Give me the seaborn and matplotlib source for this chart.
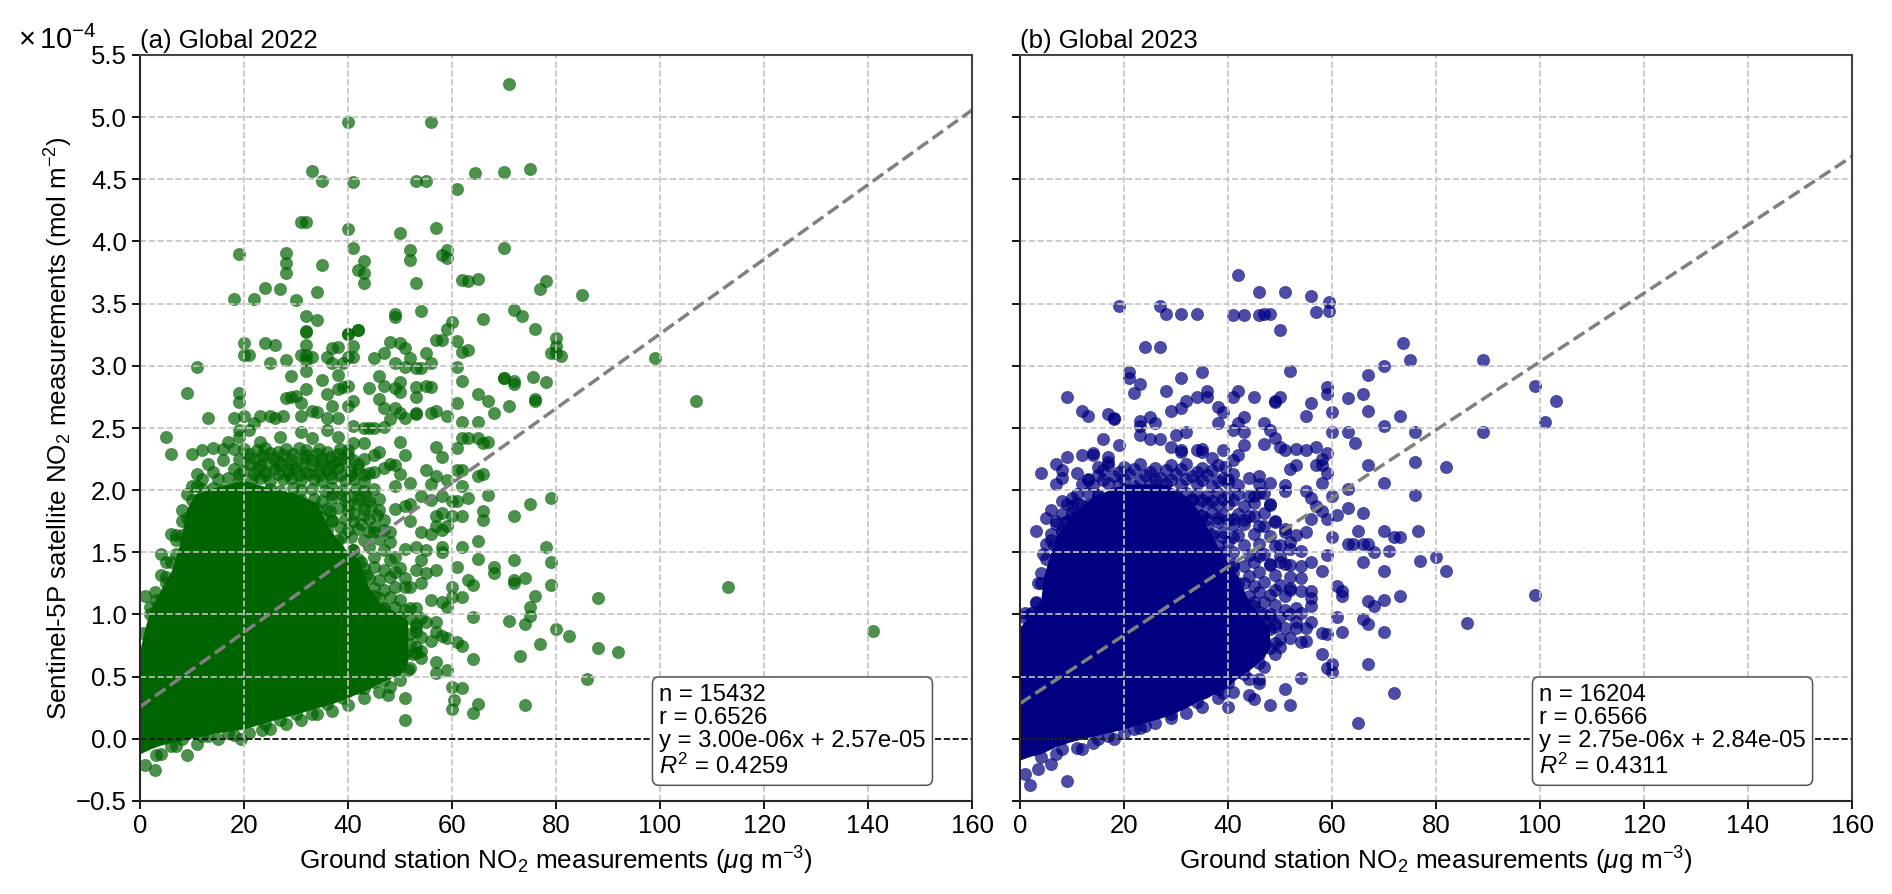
import matplotlib
matplotlib.use("Agg")
import matplotlib.pyplot as plt
import seaborn as sns

# y values are in units of 1e-4 mol m-2 (the axis multiplier is drawn as text)
# points that can be told apart
a_sparse = [
    (71, 5.27), (40, 4.96), (56, 4.96), (33, 4.57), (35, 4.49), (41, 4.48), (53, 4.49), (55, 4.49), (61, 4.42),
    (75, 4.58), (70, 4.56), (64.5, 4.55), (31, 4.16), (32, 4.16), (40, 4.10), (57, 4.11), (50, 4.07), (19, 3.90),
    (28, 3.91), (28, 3.83), (28, 3.75), (35, 3.81), (41, 3.95), (43, 3.84), (42, 3.77), (43, 3.75), (43, 3.67),
    (52, 3.93), (52, 3.85), (59, 3.93), (58, 3.89), (59, 3.87), (53, 3.67), (62, 3.69), (24, 3.63), (27, 3.62),
    (18, 3.54), (22, 3.54), (30, 3.53), (34, 3.59), (32, 3.40), (34, 3.37), (49, 3.42), (49, 3.39), (54, 3.44),
    (32, 3.28), (40, 3.26), (42, 3.29), (70, 3.95), (78, 3.68), (77, 3.62), (72, 3.45), (73.5, 3.40), (85, 3.57),
    (76, 3.30), (80, 3.22), (80, 3.16), (80, 3.10), (79, 3.10), (81, 3.08), (75.5, 2.91), (70, 2.90), (72, 2.85),
    (76, 2.73), (99, 3.06), (107, 2.72), (65, 3.70), (63, 3.68), (60, 3.35), (59, 3.30), (61, 3.20), (66, 3.38),
    (20, 3.18), (24, 3.18), (26, 3.17), (20, 3.09), (21, 3.09), (25, 3.02), (28, 3.05), (32, 3.27), (32, 3.17),
    (31, 3.09), (32, 3.09), (32, 3.05), (33, 3.07), (32, 2.96), (29, 2.92), (35, 2.89), (37, 3.14), (38, 3.15),
    (40, 3.26), (42, 3.29), (41, 3.16), (41, 3.07), (40, 3.07), (36, 3.07), (37, 3.02), (39, 3.02), (38, 2.93),
    (45, 3.06), (47, 3.10), (48, 3.19), (50, 3.18), (51, 3.14), (52, 3.06), (49, 3.02), (51, 2.99), (53, 2.98),
    (54, 2.98), (56, 3.02), (55, 3.10), (57, 3.21), (58, 3.21), (61, 2.99), (62, 3.11), (63, 3.13), (62, 2.88),
    (46, 2.92), (47, 2.84), (50, 2.87), (49, 2.82), (50, 2.79), (53, 2.83), (55, 2.84), (56, 2.83), (44, 2.82),
    (39, 2.83), (40, 2.84), (38, 2.81), (36, 2.77), (32, 2.81), (46, 2.73), (53, 2.75), (41, 2.72), (40, 2.68),
    (37, 2.68), (47, 2.66), (49, 2.66), (50, 2.62), (51, 2.58), (53, 2.62), (53, 2.61), (56, 2.62), (57, 2.64),
    (59, 2.60), (48, 2.57), (47, 2.51), (45, 2.50), (41, 2.52), (43, 2.50), (44, 2.50), (61, 2.70), (65, 2.77),
    (67, 2.72), (68, 2.62), (65, 2.55), (62, 2.55), (71, 2.68), (70, 2.90), (72, 2.88), (76, 2.72), (78, 2.87),
    (62, 2.42), (63, 2.42), (61, 2.34), (65, 2.42), (66, 2.38), (67, 2.39), (57, 2.35), (58, 2.27), (50, 2.39),
    (51, 2.28), (46, 2.31), (45, 2.28), (48, 2.21), (47, 2.18), (49, 2.20), (50, 2.13), (44, 2.14), (45, 2.15),
    (52, 2.06), (49, 2.03), (55, 2.16), (57, 2.11), (56, 2.05), (59, 2.08), (61, 2.16), (62, 2.16), (65, 2.11),
    (66, 2.13), (62, 2.03), (54, 1.95), (56, 1.92), (58, 1.95), (63, 1.94), (67, 1.96), (79, 1.94), (75, 1.89),
    (60, 1.91), (61, 1.91), (52, 1.89), (51, 1.87), (49, 1.85), (66, 1.83), (66, 1.76), (72, 1.79), (58, 1.82),
    (57, 1.79), (60, 1.79), (62, 1.79), (52, 1.75), (59, 1.71), (57, 1.71), (58, 1.68), (54, 1.66), (56, 1.65),
    (65, 1.59), (48, 1.66), (47, 1.68), (45, 1.66), (58, 1.54), (58, 1.50), (55, 1.52), (53, 1.54), (51, 1.53),
    (49, 1.46), (48, 1.58), (62, 1.54), (78, 1.54), (65, 1.45), (72, 1.44), (79, 1.42), (54, 1.44), (61, 1.38),
    (57, 1.36), (53, 1.36), (68, 1.38), (68, 1.33), (55, 1.33), (49, 1.34), (74, 1.29), (72, 1.28), (72, 1.25),
    (63, 1.28), (64, 1.24), (60, 1.22), (79, 1.24), (51, 1.22), (52, 1.22), (54, 1.25), (60, 1.14), (62, 1.14),
    (76, 1.15), (75, 1.06), (75, 0.99), (74, 0.92), (71, 0.95), (64, 0.98), (56, 1.12), (58, 1.10), (59, 1.06),
    (52, 1.05), (54, 0.97), (55, 0.94), (57, 0.94), (53, 0.86), (57, 0.86), (58, 0.83), (59, 0.81), (56, 0.79),
    (61, 0.78), (62, 0.75), (77, 0.76), (73, 0.67), (64, 0.64), (57, 0.62), (54, 0.71), (53, 0.69), (59, 0.55),
    (57, 0.53), (52, 0.57), (50, 0.58), (47, 0.47), (113, 1.22), (88, 1.13), (141, 0.87), (80, 0.88), (82.5, 0.83),
    (88, 0.73), (92, 0.70), (86, 0.48), (74, 0.27), (65, 0.28), (64, 0.21), (60, 0.42), (62, 0.41), (51, 0.15),
    (51, 0.33), (47.6, 0.35), (43, 0.41), (60, 0.24), (60.4, 0.31), (33, 0.20), (29, 0.34), (23.5, 0.07),
    (22.5, 0.20), (19.5, 0.0), (8, 0.0), (9, -0.13), (2.8, -0.25), (1, -0.21), (4, -0.12), (6, -0.06), (13, 0.02),
    (11, 2.99), (9, 2.78), (13, 2.58), (5, 2.43), (6, 2.29), (10, 2.29), (12, 2.32), (14, 2.34), (16, 2.33),
    (18, 2.33), (17, 2.39), (13, 2.21), (11, 2.13), (12, 2.09), (14, 2.15), (16, 2.24), (19, 2.78), (19, 2.71),
    (20, 2.60), (18, 2.58), (19, 2.48), (19, 2.43), (21, 2.48), (22, 2.54), (23, 2.60), (25, 2.60), (26, 2.58),
    (27.5, 2.60), (31, 2.60), (33, 2.64), (34, 2.63), (36, 2.58), (38, 2.58), (28, 2.74), (29, 2.75), (30, 2.76),
    (31, 2.70), (27, 2.43), (31, 2.47), (33, 2.42), (36, 2.48), (38, 2.43), (23, 2.39), (41, 2.38), (43, 2.38),
    (1, 1.15), (2.9, 1.18), (2, 1.06), (4, 1.49), (5, 1.42), (4, 1.32), (5, 1.30), (7, 1.49), (6, 1.65), (7, 1.64),
    (8, 1.64), (8, 1.75), (8, 1.84), (9, 1.97), (10, 2.03), (11, 2.03),
]
# crowded but still patchy zone around the saturated core
a_band = [
    (20, 2.33), (22.5, 2.32), (24, 2.34), (26.5, 2.31), (28, 2.33), (30.5, 2.34), (32, 2.32), (34.5, 2.33),
    (36, 2.31), (38.5, 2.33), (40, 2.32), (19, 2.25), (21, 2.26), (23, 2.24), (25.5, 2.26), (27, 2.23), (29, 2.25),
    (31.5, 2.26), (33, 2.24), (35, 2.25), (37.5, 2.23), (39, 2.26), (41, 2.24), (43, 2.25), (18, 2.17), (20, 2.16),
    (22.5, 2.18), (24, 2.15), (26, 2.17), (28.5, 2.16), (30, 2.18), (32, 2.15), (34.5, 2.17), (36, 2.16), (38, 2.18),
    (40.5, 2.15), (42, 2.17), (15, 2.09), (17, 2.10), (19, 2.08), (21.5, 2.09), (23, 2.10), (25, 2.07), (27.5, 2.09),
    (29, 2.10), (31, 2.08), (33.5, 2.09), (35, 2.07), (37, 2.10), (39.5, 2.08), (41, 2.09), (43, 2.07), (12, 2.01),
    (14, 2.02), (16, 2.00), (18.5, 2.02), (25, 2.01), (27, 1.99), (29.5, 2.02), (31, 2.00), (33, 2.01), (35.5, 1.99),
    (37, 2.02), (39, 2.00), (41.5, 2.01), (43, 1.99), (45, 2.01), (25, 1.93), (27.5, 1.92), (29, 1.94), (31, 1.92),
    (33.5, 1.93), (35, 1.91), (37, 1.94), (39.5, 1.92), (42, 1.93), (44, 1.91), (46, 1.93), (26, 1.85), (28, 1.84),
    (30.5, 1.86), (32, 1.84), (34, 1.85), (36.5, 1.83), (38, 1.86), (40, 1.84), (43, 1.85), (46, 1.84), (31, 1.77),
    (33.5, 1.76), (35, 1.78), (37, 1.76), (39.5, 1.77), (41, 1.75), (44, 1.77), (47, 1.76), (34, 1.69), (36, 1.68),
    (38.5, 1.70), (40, 1.68), (42, 1.69), (45, 1.70), (36, 1.61), (38, 1.60), (40.5, 1.62), (43, 1.60), (46, 1.61),
    (38, 1.53), (41, 1.52), (44, 1.54), (47, 1.52), (42, 1.45), (45, 1.46), (48, 1.44), (43, 1.37), (45, 1.38),
    (47, 1.36), (50, 1.37), (44, 1.29), (46, 1.28), (48, 1.30), (51, 1.29), (45, 1.21), (47, 1.20), (49, 1.22),
    (46, 1.13), (48, 1.14), (50, 1.12), (47, 1.05), (49, 1.06), (51, 1.04), (53, 1.05), (52, 0.97), (53, 0.92),
    (52, 0.84), (52, 0.76), (51, 0.68), (50, 0.62), (49, 0.55), (47, 0.52), (45, 0.46), (42, 0.41), (39, 0.33),
    (36, 0.28), (30, 0.20), (27, 0.15), (24, 0.12), (17, 0.05), (12, 0.02),
    (21, 2.29), (23.5, 2.28), (25, 2.30), (27.5, 2.28), (29.5, 2.29), (32, 2.28), (34, 2.29), (36.5, 2.27), (38, 2.29),
    (40, 2.28), (42, 2.21), (39.5, 2.21), (37, 2.20), (35, 2.21), (33, 2.20), (31, 2.21), (29, 2.20), (27, 2.20),
    (25, 2.21), (23, 2.20), (21, 2.21), (19, 2.13), (22, 2.13), (24, 2.12), (26.5, 2.13), (28.5, 2.13), (30.5, 2.12),
    (32.5, 2.13), (34.5, 2.12), (36.5, 2.13), (38.5, 2.12), (40.5, 2.12), (43, 2.12), (37, 1.97), (39, 1.96), (41, 1.96),
    (43.5, 1.95), (40, 1.88), (42, 1.89), (44.5, 1.87), (41, 1.81), (43, 1.80), (45.5, 1.80), (42.5, 1.73), (44, 1.66),
]
# points along the rim of the saturated core
a_rim = [
    (3, -0.13), (7, -0.06), (11, -0.04), (15, 0.0), (18, 0.03), (21, 0.05), (25, 0.08), (28, 0.12), (31, 0.15),
    (34, 0.20), (37, 0.22), (40, 0.27), (43, 0.33), (46, 0.38), (48, 0.42), (50, 0.47), (51.5, 0.55), (52.5, 0.68),
    (54, 0.65), (53, 0.74), (54, 0.82), (53, 0.90), (0.5, 0.85), (2, 1.0), (3, 1.12), (5, 1.25), (6, 1.42), (7, 1.6),
    (9, 1.78), (10, 1.92), (36, 1.85), (37, 1.75), (39, 1.62), (41, 1.52), (42.5, 1.42), (43.5, 1.32), (45, 1.15),
    (47, 1.05), (50, 0.98),
]
# saturated core, too crowded to read single points: upper and lower edge per x
a_core_x = [0, 1, 2, 4, 6, 7.5, 9, 10.5, 15, 20, 24, 30, 34, 36, 38, 40, 42, 44, 46, 50, 51.5]
a_core_hi = [0.72, 0.90, 1.05, 1.20, 1.35, 1.55, 1.85, 1.97, 2.03, 2.08, 2.03, 1.97, 1.90, 1.72, 1.60, 1.50, 1.45, 1.22, 1.10, 1.0, 0.95]
a_core_lo = [-0.12, -0.10, -0.08, -0.05, -0.03, -0.02, 0.0, 0.01, 0.05, 0.08, 0.13, 0.20, 0.25, 0.27, 0.30, 0.33, 0.37, 0.40, 0.45, 0.52, 0.62]

b_sparse = [
    (42, 3.73), (46, 3.59), (51, 3.59), (56, 3.56), (59.5, 3.51), (59.5, 3.44), (57, 3.43), (19, 3.48), (27, 3.48),
    (28, 3.42), (31, 3.42), (34, 3.42), (41, 3.41), (43, 3.41), (46, 3.41), (47, 3.42), (48, 3.42), (50, 3.29),
    (24, 3.15), (27, 3.15), (52, 2.96), (21, 2.95), (21, 2.90), (23, 2.85), (31, 2.90), (35, 2.95), (22, 2.78),
    (28, 2.80), (9, 2.75), (36, 2.80), (36, 2.75), (34, 2.75), (32, 2.72), (31, 2.66), (29, 2.64), (38, 2.67),
    (39, 2.63), (42, 2.80), (41, 2.75), (45, 2.75), (50, 2.75), (49, 2.72), (49, 2.71), (59, 2.83), (56, 2.70),
    (55, 2.60), (60, 2.63), (12, 2.64), (13, 2.60), (17, 2.61), (18, 2.58), (18, 2.57), (23, 2.56), (25, 2.59),
    (23, 2.52), (26, 2.54), (38, 2.54), (42, 2.54), (43, 2.59), (47, 2.54), (41, 2.48), (43, 2.47), (48, 2.48),
    (49, 2.42), (32, 2.47), (30, 2.44), (23, 2.44), (25, 2.41), (27, 2.41), (16, 2.41), (19, 2.36), (47, 2.37),
    (43, 2.36), (50, 2.35), (51, 2.32), (53, 2.33), (55, 2.32), (29, 2.35), (31, 2.32), (31, 2.31), (34, 2.32),
    (35, 2.33), (35, 2.31), (39, 2.32), (14, 2.30), (14, 2.28), (12, 2.28), (9, 2.27), (17, 2.27), (37, 2.26),
    (42, 2.28), (41, 2.24), (53, 2.20), (52, 2.17), (58, 2.25), (58, 2.20), (59, 2.14), (58, 2.06), (7, 2.21),
    (8, 2.16), (4, 2.14), (8, 2.10), (7, 2.05), (11, 2.14), (13, 2.08), (15, 2.19), (17, 2.23), (44, 2.10),
    (46, 2.11), (46, 2.05), (48, 2.06), (51, 2.04), (51, 1.99), (55, 1.99), (56, 1.94), (45, 1.95), (47, 1.98),
    (48, 1.89), (57, 1.87), (58, 1.83), (56, 1.77), (45, 1.79), (49, 1.75), (51, 1.69), (55, 1.66), (53, 1.64),
    (41, 1.77), (43, 1.76), (47, 1.71), (8, 1.91), (10, 1.94), (6, 1.84), (5, 1.78), (7, 1.75), (9, 1.75), (3, 1.67),
    (10, 1.87), (11, 1.79), (89, 3.05), (99, 2.84), (103, 2.72), (101, 2.55), (89, 2.47), (73.6, 3.18), (75, 3.05),
    (67, 2.93), (70, 3.0), (76, 2.47), (76, 2.23), (82, 2.19), (67, 2.64), (73, 2.60), (70, 2.52), (66, 2.77),
    (63, 2.74), (59, 2.77), (70, 2.06), (67, 2.20), (60, 2.47), (63, 2.47), (64.5, 2.38), (76, 1.96), (76.6, 1.67),
    (72, 1.62), (73, 1.62), (70, 1.67), (66, 1.82), (63, 2.01), (63, 1.86), (65, 1.67), (66, 1.57), (63, 1.57),
    (59, 1.77), (59, 2.30), (57, 2.20), (57, 2.35), (60, 1.95), (61, 1.80), (60, 1.62),
    (77, 1.43), (80, 1.46), (82, 1.35), (66, 1.42), (70, 1.35), (68, 1.50), (71, 1.51), (67, 1.57), (64, 1.57),
    (59, 1.48), (56, 1.42), (54, 1.39), (58, 1.35), (61, 1.23), (62, 1.19), (62, 1.15), (67, 1.11), (68, 1.07),
    (70, 1.12), (73, 1.15), (99, 1.16), (61, 0.98), (66, 0.96), (67, 0.92), (62, 0.86), (70, 0.86), (86, 0.93),
    (58, 0.85), (59, 0.84), (55, 0.79), (54, 0.78), (52, 0.81), (50, 0.74), (58, 0.68), (60, 0.60), (59, 0.57),
    (60, 0.54), (67, 0.60), (54, 0.49), (51, 0.40), (46, 0.48), (46, 0.45), (44, 0.35), (45, 0.32), (48, 0.27),
    (52, 0.27), (40, 0.26), (72, 0.37), (65, 0.13), (56, 1.19), (56, 1.13), (56, 1.07), (54, 1.29), (52, 1.30),
    (52, 1.21), (52, 1.20), (54, 1.19), (51, 1.15), (49, 1.20), (53, 1.05), (54, 1.01), (51, 1.04), (52, 1.0),
    (48, 0.98), (53, 0.94), (53, 0.89), (55, 0.89), (56, 0.94), (51, 0.89), (48, 0.88), (49, 0.77), (48, 0.73),
    (46, 0.61), (46, 0.68), (43, 0.52), (42, 0.54), (40, 0.45), (39, 0.37), (48, 1.41), (50, 1.42), (52, 1.40),
    (54, 1.51), (52, 1.53), (50, 1.56), (46, 1.47), (2, -0.37), (9, -0.34), (3.5, -0.24), (1, -0.28), (6, -0.2),
    (12, -0.08), (18, 0.0), (24, 0.1), (0.8, 0.98), (2, 1.0),
]
b_band = [
    (17, 2.20), (20, 2.19), (23, 2.21), (26, 2.18), (29, 2.20), (32, 2.21), (35, 2.18), (38, 2.20), (39.5, 2.19),
    (15, 2.12), (18, 2.11), (21, 2.13), (24, 2.12), (27, 2.10), (30, 2.13), (33, 2.11), (36, 2.12), (39, 2.10),
    (41, 2.13), (12, 2.05), (14, 2.04), (17, 2.06), (19, 2.05), (22, 2.03), (25, 2.05), (28, 2.06), (31, 2.04),
    (34, 2.05), (37, 2.03), (40, 2.06), (42, 2.04), (11, 1.97), (13, 1.98), (15, 1.96), (18, 1.98), (30, 1.96),
    (32, 1.98), (34, 1.97), (36, 1.95), (38, 1.98), (40, 1.96), (42, 1.97), (44, 1.95), (46, 1.98), (9, 1.89),
    (11, 1.90), (13, 1.88), (15, 1.90), (32, 1.89), (34, 1.87), (36, 1.90), (38, 1.88), (40, 1.89), (43, 1.87),
    (45, 1.90), (48, 1.88), (8, 1.81), (10, 1.82), (12, 1.80), (33, 1.81), (35, 1.79), (37, 1.82), (39, 1.80),
    (42, 1.81), (44, 1.79), (47, 1.82), (7, 1.73), (9, 1.74), (11, 1.72), (34, 1.73), (36, 1.71), (38, 1.74),
    (41, 1.72), (43, 1.73), (46, 1.71), (49, 1.74), (6, 1.65), (8, 1.66), (35, 1.65), (37, 1.63), (39, 1.66),
    (42, 1.64), (45, 1.65), (48, 1.63), (51, 1.66), (5, 1.57), (6.5, 1.56), (36, 1.57), (38, 1.55), (40, 1.58),
    (43, 1.56), (46, 1.57), (49, 1.55), (52, 1.58), (4.5, 1.49), (37, 1.49), (39, 1.47), (41, 1.50), (44, 1.48),
    (47, 1.49), (50, 1.47), (41, 1.41), (43, 1.39), (45, 1.42), (48, 1.40), (51, 1.41), (4, 1.33), (41, 1.33),
    (44, 1.31), (46, 1.34), (49, 1.32), (3.5, 1.25), (42, 1.25), (45, 1.23), (47, 1.26), (50, 1.24), (42, 1.17),
    (44, 1.15), (46, 1.18), (48, 1.16), (3, 1.09), (43, 1.09), (45, 1.07), (47, 1.10), (49, 1.08), (1, 1.01),
    (2.5, 1.02), (42, 1.01), (44, 0.99), (46, 1.02), (48, 1.00), (50, 0.98), (43, 0.93), (45, 0.91), (47, 0.94),
    (49, 0.92), (42, 0.85), (44, 0.83), (46, 0.86), (42, 0.77), (44, 0.75), (47, 0.78), (41, 0.69), (43, 0.67),
    (45, 0.70), (41, 0.61), (43, 0.59), (41, 0.53), (38, 0.40), (34, 0.30), (29, 0.20), (22, 0.08), (15, 0.0), (8, -0.08),
    (16, 2.16), (19, 2.15), (22, 2.17), (25, 2.15), (28, 2.16), (31, 2.17), (34, 2.15), (37, 2.16), (13, 2.09),
    (16, 2.08), (20, 2.09), (23, 2.08), (26, 2.09), (29, 2.08), (32, 2.09), (35, 2.08), (38, 2.07), (40, 2.09),
    (33, 1.93), (35, 1.92), (37, 1.91), (39, 1.93), (41, 1.92), (36, 1.77), (38, 1.78), (40, 1.76), (39, 1.62), (41, 1.62),
]
b_rim = [
    (4, -0.15), (7, -0.12), (11, -0.07), (14, -0.03), (17, 0.02), (20, 0.05), (23, 0.09), (26, 0.13), (29, 0.17),
    (32, 0.21), (35, 0.26), (38, 0.33), (41, 0.38), (44, 0.48), (47, 0.58), (49, 0.68), (3, 1.1), (4, 1.25), (5, 1.45),
    (6, 1.6), (8, 1.68), (10, 1.78), (12, 1.88), (15, 1.95), (33, 1.92), (35, 1.8), (37, 1.65), (39, 1.5), (41, 1.38),
    (43, 1.25), (45, 1.1), (47, 1.0), (49, 0.9), (50, 0.8),
]
b_core_x = [0, 2, 4, 4.5, 6, 7, 10, 14, 20, 28, 32, 34, 36, 38, 40, 42, 44, 46, 48]
b_core_hi = [0.90, 1.0, 1.12, 1.30, 1.52, 1.63, 1.80, 1.95, 2.05, 2.05, 1.95, 1.85, 1.70, 1.55, 1.42, 1.30, 1.10, 1.0, 0.90]
b_core_lo = [-0.17, -0.14, -0.12, -0.11, -0.08, -0.06, -0.02, 0.02, 0.08, 0.18, 0.25, 0.30, 0.33, 0.38, 0.42, 0.50, 0.55, 0.62, 0.72]

fit_x = [0, 160]
a_fit = [0.257, 5.057]
b_fit = [0.284, 4.684]

titles = ["(a) Global 2022", "(b) Global 2023"]
stats = [
    "n = 15432\nr = 0.6526\ny = 3.00e-06x + 2.57e-05\n$R^2$ = 0.4259",
    "n = 16204\nr = 0.6566\ny = 2.75e-06x + 2.84e-05\n$R^2$ = 0.4311",
]
x_ticks = [0, 20, 40, 60, 80, 100, 120, 140, 160]
y_ticks = [-0.5, 0, 0.5, 1, 1.5, 2, 2.5, 3, 3.5, 4, 4.5, 5, 5.5]


def draw_panel(ax, pts, core, fit, color, title, stat):
    core_x, core_lo, core_hi = core
    ax.fill_between(core_x, core_lo, core_hi, color=color, linewidth=0, zorder=1.5)
    sns.scatterplot(x=[p[0] for p in pts], y=[p[1] for p in pts], ax=ax, color=color, s=78, alpha=0.7,
                    edgecolor=color, linewidth=0.4, zorder=2)
    sns.lineplot(x=fit_x, y=fit, ax=ax, color="#808080", linewidth=2.5, linestyle="--", zorder=4)
    ax.axhline(0, color="black", linewidth=1.2, linestyle="--", zorder=3.5)
    ax.grid(True, color="#c4c4c4", linewidth=1.2, linestyle="--", zorder=3)
    ax.set_axisbelow(False)
    ax.set_xlim(0, 160)
    ax.set_ylim(-0.5, 5.5)
    ax.set_xticks(x_ticks)
    ax.set_yticks(y_ticks)
    ax.set_yticklabels([f"{v:.1f}".replace("-", "\u2212") for v in y_ticks])
    ax.tick_params(labelsize=18.5, width=1.3, length=6, direction="out", zorder=6)
    ax.set_xlabel("Ground station NO$_2$ measurements ($\\mu$g m$^{-3}$)", fontsize=18.8, labelpad=5)
    ax.set_title(title, loc="left", fontsize=18.5, pad=5)
    for side in ["top", "right"]:
        ax.spines[side].set_color("#444444")
    for side in ax.spines:
        ax.spines[side].set_linewidth(1.5)
        ax.spines[side].set_zorder(7)
    ax.text(0.624, 0.03, stat, transform=ax.transAxes, fontsize=17.2, ha="left", va="bottom", linespacing=1.07, zorder=8,
            bbox=dict(boxstyle="round,pad=0.28", facecolor="white", edgecolor="#555555", linewidth=1.1))


sns.set_theme(style="ticks")
plt.rcParams["font.family"] = ["Liberation Sans", "DejaVu Sans"]
plt.rcParams["mathtext.fontset"] = "custom"
plt.rcParams["mathtext.rm"] = "Liberation Sans"
plt.rcParams["mathtext.it"] = "Liberation Sans:italic"
plt.rcParams["mathtext.bf"] = "Liberation Sans:bold"
plt.rcParams["text.color"] = "black"
plt.rcParams["xtick.color"] = "black"
plt.rcParams["ytick.color"] = "black"
plt.rcParams["axes.labelcolor"] = "black"

fig, axes = plt.subplots(1, 2, figsize=(18.92, 8.94), sharey=True)
fig.subplots_adjust(left=140 / 1892, right=1852 / 1892, top=1 - 55 / 894, bottom=1 - 801 / 894, wspace=48 / 832)

draw_panel(axes[0], a_sparse + a_band + a_rim, (a_core_x, a_core_lo, a_core_hi), a_fit, "darkgreen", titles[0], stats[0])
draw_panel(axes[1], b_sparse + b_band + b_rim, (b_core_x, b_core_lo, b_core_hi), b_fit, "navy", titles[1], stats[1])

axes[0].set_ylabel("Sentinel-5P satellite NO$_2$ measurements (mol m$^{-2}$)", fontsize=18.7, labelpad=1)
fig.text(18 / 1892, 1 - 49 / 894, "$\\times\\,\\mathregular{10}^{-4}$", fontsize=21, ha="left", va="baseline")

fig.savefig("out.png", dpi=100)
